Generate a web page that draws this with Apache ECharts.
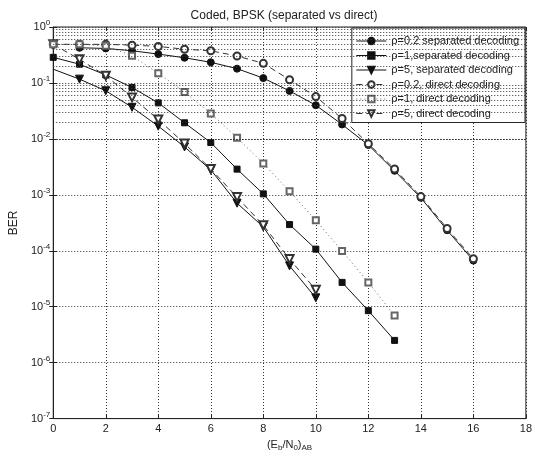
<!DOCTYPE html>
<html>
<head>
<meta charset="utf-8">
<script src="https://cdn.jsdelivr.net/npm/echarts/dist/echarts.min.js"></script>
<style>
html,body{margin:0;padding:0;background:#fff;}
#c{width:535px;height:457px;}
</style>
</head>
<body>
<div id="c"></div>
<script>
// ---- data ----
const xRho02Sep = [1,2,3,4,5,6,7,8,9,10,11,12,13,14,15,16];
const rho02Sep  = [0.425,0.414,0.376,0.328,0.282,0.234,0.180,0.122,0.072,0.040,0.0181,0.00778,0.00269,8.85e-4,2.33e-4,6.68e-5];
const xRho02Dir = [0,1,2,3,4,5,6,7,8,9,10,11,12,13,14,15,16];
const rho02Dir  = [0.49,0.49,0.49,0.474,0.45,0.40,0.376,0.303,0.224,0.114,0.057,0.0231,0.0082,0.0029,9.3e-4,2.5e-4,7.2e-5];
const xRho1 = [0,1,2,3,4,5,6,7,8,9,10,11,12,13];
const rho1Sep = [0.287,0.216,0.139,0.0831,0.044,0.0194,0.0086,0.00288,0.00104,2.94e-4,1.07e-4,2.72e-5,8.5e-6,2.5e-6];
const rho1Dir = [0.49,0.49,0.46,0.306,0.149,0.0687,0.0284,0.0105,0.00364,1.16e-3,3.5e-4,9.9e-5,2.72e-5,6.97e-6];
const xRho5 = [0,1,2,3,4,5,6,7,8,9,10];
const rho5Sep = [0.176,0.117,0.0724,0.0367,0.0169,0.00718,0.0028,7.1e-4,2.67e-4,5.37e-5,1.44e-5];
const rho5Dir = [0.49,0.264,0.135,0.0552,0.0222,0.00824,0.0029,9.1e-4,2.86e-4,7.1e-5,2.0e-5];
const names = ['\u03c1=0.2 separated decoding','\u03c1=1,separated decoding','\u03c1=5, separated decoding',
               '\u03c1=0.2, direct decoding','\u03c1=1, direct decoding','\u03c1=5, direct decoding'];
const titleText = 'Coded, BPSK (separated vs direct)';

// minor log grid lines (2..9 x 10^n)
const minorLines = [];
for (let n = -7; n <= -1; n++) for (let k = 2; k <= 9; k++) minorLines.push({yAxis: k * Math.pow(10, n)});

function pairs(xs, ys){ return xs.map((x,i)=>[x, ys[i]]); }

const FONT = 'Liberation Sans, Arial, sans-serif';
const gridLine = {type:[1,2], color:'#333', width:1};

function mk(name, xs, ys, symbol, size, lineType, color, rotate, extra){
  return Object.assign({
    name, type:'line', data: pairs(xs, ys), symbol, symbolSize:size, symbolRotate: rotate||0,
    showAllSymbol:true, animation:false,
    lineStyle:{color, width:1, type:lineType},
    itemStyle:{color: color, borderColor: color, borderWidth:1}
  }, extra||{});
}

const chart = echarts.init(document.getElementById('c'), null, {renderer:'canvas'});
const series = [
  mk(names[0], xRho02Sep, rho02Sep, 'circle', 7, 'solid', '#111', 0, {
    markLine:{silent:true, symbol:['none','none'], label:{show:false}, animation:false,
      lineStyle:gridLine, emphasis:{disabled:true}, data: minorLines}
  }),
  mk(names[1], xRho1, rho1Sep, 'rect', 6, 'solid', '#111', 0),
  mk(names[2], xRho5, rho5Sep, 'triangle', 8, 'solid', '#111', 180),
  mk(names[3], xRho02Dir, rho02Dir, 'emptyCircle', 7, [6,4], '#333', 0),
  mk(names[4], xRho1, rho1Dir, 'emptyRect', 6, [1,3], '#666', 0, {z:4}),
  mk(names[5], xRho5, rho5Dir, 'emptyTriangle', 8, [6,4], '#333', 180)
];
// hide marker at x=0 for rho=5 separated (line only in reference)
series[2].data[0] = {value: series[2].data[0], symbol:'none'};

chart.setOption({
  backgroundColor:'#fff',
  animation:false,
  title:{text:titleText, left:279, top:5, textAlign:'center',
    textStyle:{fontFamily:FONT, fontSize:12, fontWeight:'normal', color:'#222'}},
  grid:{left:48, right:4, top:27, bottom:35, show:true, borderColor:'#222', borderWidth:1, backgroundColor:'transparent'},
  legend:{
    data:names, orient:'vertical', right:10, top:28, itemWidth:30, itemHeight:8, itemGap:2.5,
    padding:[7,6,3,4], backgroundColor:'#fff', borderColor:'#222', borderWidth:1,
    lineStyle:{width:1},
    textStyle:{fontFamily:FONT, fontSize:11, color:'#222', lineHeight:12}, selectedMode:false
  },
  xAxis:[{
    type:'value', min:0, max:18, interval:2,
    name:'(E{sub|b}/N{sub|0}){sub|AB}', nameLocation:'middle', nameGap:16,
    nameTextStyle:{fontFamily:FONT, fontSize:11, color:'#222', verticalAlign:'top',
      rich:{sub:{fontFamily:FONT, fontSize:8, color:'#222', verticalAlign:'bottom', padding:[6,0,0,0]}}},
    axisLine:{show:true, lineStyle:{color:'#222'}},
    axisTick:{inside:true, length:4, lineStyle:{color:'#222'}},
    axisLabel:{fontFamily:FONT, fontSize:11, color:'#222', margin:5},
    splitLine:{show:true, lineStyle:gridLine}
  },{
    type:'value', min:0, max:18, interval:2, position:'top',
    axisLine:{show:false}, axisTick:{inside:true, length:4, lineStyle:{color:'#222'}},
    axisLabel:{show:false}, splitLine:{show:false}
  }],
  yAxis:[{
    type:'log', logBase:10, min:1e-7, max:1, interval:1,
    name:'BER', nameLocation:'middle', nameGap:23,
    nameTextStyle:{fontFamily:FONT, fontSize:12, color:'#222'},
    axisLine:{show:true, lineStyle:{color:'#222'}},
    axisTick:{inside:true, length:4, lineStyle:{color:'#222'}},
    axisLabel:{margin:3, color:'#222',
      formatter:function(v){ const e = Math.round(Math.log10(v)); return '{b|10}{s|' + e + '}'; },
      rich:{b:{fontFamily:FONT, fontSize:11, color:'#222'},
            s:{fontFamily:FONT, fontSize:8, color:'#222', verticalAlign:'top', padding:[0,0,8,0]}}},
    splitLine:{show:true, lineStyle:gridLine}
  },{
    type:'log', logBase:10, min:1e-7, max:1, interval:1, position:'right',
    axisLine:{show:false}, axisTick:{inside:true, length:4, lineStyle:{color:'#222'}},
    axisLabel:{show:false}, splitLine:{show:false}
  }],
  series: series
});
</script>
</body>
</html>
